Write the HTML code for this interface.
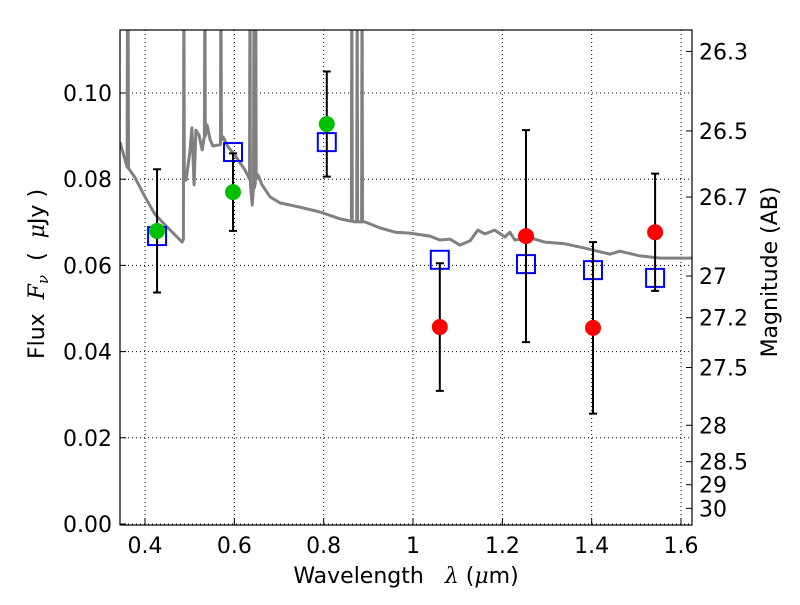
<!DOCTYPE html>
<html><head><meta charset="utf-8"><style>
body{margin:0;background:#fff}
svg text{font-family:"DejaVu Sans","Liberation Sans",sans-serif;fill:#000}
</style></head><body>
<svg id="chart" width="800" height="600" xmlns="http://www.w3.org/2000/svg">
<rect width="800" height="600" fill="#fff"/>
<defs><clipPath id="clip"><rect x="120" y="30" width="572" height="495"/></clipPath></defs>
<g id="grid"></g>
<g id="plot" clip-path="url(#clip)"></g>
<rect x="120" y="30" width="572" height="495" fill="none" stroke="#000" stroke-width="1.2"/>
<g id="axes"></g>
<text x="406" y="583" font-size="22" text-anchor="middle" xml:space="preserve">Wavelength   <tspan font-style="italic" font-family="DejaVu Serif">λ</tspan> (<tspan font-style="italic" font-family="DejaVu Serif">μ</tspan>m)</text>
<text transform="translate(44,274) rotate(-90)" font-size="22" text-anchor="middle" xml:space="preserve">Flux  <tspan font-style="italic" font-family="DejaVu Serif">F<tspan font-size="15" dy="4">ν</tspan></tspan><tspan dy="-4">  (  </tspan><tspan font-style="italic" font-family="DejaVu Serif">μ</tspan>Jy )</text>
<text transform="translate(777,272) rotate(-90)" font-size="22" text-anchor="middle">Magnitude (AB)</text>
</svg>
<script>
const specWave=[0.344,0.360,0.361,0.362,0.363,0.366,0.378,0.400,0.422,0.445,0.467,0.483,0.486,0.487,0.488,0.492,0.501,0.505,0.510,0.514,0.521,0.528,0.533,0.534,0.535,0.539,0.546,0.552,0.569,0.570,0.571,0.575,0.586,0.601,0.613,0.624,0.634,0.635,0.636,0.640,0.643,0.644,0.645,0.647,0.648,0.649,0.653,0.662,0.680,0.702,0.747,0.792,0.837,0.859,0.862,0.863,0.864,0.870,0.874,0.875,0.876,0.885,0.886,0.887,0.892,0.926,0.960,0.993,1.038,1.060,1.083,1.105,1.128,1.145,1.161,1.183,1.206,1.217,1.228,1.262,1.295,1.340,1.385,1.441,1.463,1.508,1.553,1.625];
const specFlux=[0.0886,0.0828,0.13,0.13,0.0825,0.0821,0.0803,0.0759,0.0719,0.0694,0.0671,0.0654,0.066,0.13,0.08,0.0798,0.0868,0.0919,0.0787,0.0914,0.0902,0.0868,0.09,0.13,0.09,0.0926,0.0891,0.0877,0.088,0.13,0.089,0.0898,0.0875,0.0856,0.0838,0.0821,0.080,0.13,0.079,0.074,0.078,0.13,0.078,0.079,0.13,0.08,0.081,0.0787,0.0759,0.0745,0.0735,0.0724,0.0708,0.0703,0.0703,0.13,0.0702,0.0701,0.0701,0.13,0.0701,0.0701,0.13,0.0701,0.0701,0.0687,0.0677,0.0675,0.0668,0.0659,0.0661,0.0647,0.0657,0.0682,0.0673,0.0682,0.0666,0.0677,0.0659,0.0664,0.0654,0.065,0.064,0.0626,0.0633,0.0622,0.0617,0.0617];
const obsWave=[0.427,0.597,0.807,1.060,1.253,1.403,1.542];
const obsFlux=[0.068,0.077,0.0928,0.0457,0.0668,0.0455,0.0677];
const obsErr=[0.0143,0.009,0.0122,0.0148,0.0246,0.0199,0.0136];
const obsColor=['#00c000','#00c000','#00c000','#ff0000','#ff0000','#ff0000','#ff0000'];
const modelFlux=[0.0668,0.0863,0.0886,0.0613,0.0603,0.0589,0.0571];
const xTicks=[0.4,0.6,0.8,1.0,1.2,1.4,1.6];
const xTickLabels=['0.4','0.6','0.8','1','1.2','1.4','1.6'];
const yTicks=[0,0.02,0.04,0.06,0.08,0.10];
const yTickLabels=['0.00','0.02','0.04','0.06','0.08','0.10'];
const magTicks=[26.3,26.5,26.7,27,27.2,27.5,28,28.5,29,30];
const magTickLabels=['26.3','26.5','26.7','27','27.2','27.5','28','28.5','29','30'];

const NS='http://www.w3.org/2000/svg';
const X=v=>145+(v-0.4)*446.67;
const Y=v=>524-v*4310;
const magToFlux=m=>Math.pow(10,(23.9-m)/2.5);
function mk(tag,attrs,parent){const e=document.createElementNS(NS,tag);for(const k in attrs)e.setAttribute(k,attrs[k]);parent.appendChild(e);return e;}
const grid=document.getElementById('grid'),plot=document.getElementById('plot'),axes=document.getElementById('axes');

xTicks.forEach((t,i)=>{
  const g=mk('line',{x1:X(t),x2:X(t),y1:30,y2:525,stroke:'#000','stroke-width':1,'stroke-dasharray':'1,3'},grid);
  
  
  const tk=mk('line',{x1:X(t),x2:X(t),y1:525,y2:519,stroke:'#000'},axes);
  
  
  const tx=mk('text',{x:X(t),y:553,'font-size':22,'text-anchor':'middle'},axes);
  tx.textContent=xTickLabels[i];
  
  
});
yTicks.forEach((t,i)=>{
  const g=mk('line',{x1:120,x2:692,y1:Y(t),y2:Y(t),stroke:'#000','stroke-width':1,'stroke-dasharray':'1,3'},grid);
  
  
  const tk=mk('line',{x1:120,x2:126,y1:Y(t),y2:Y(t),stroke:'#000'},axes);
  
  
  const tx=mk('text',{x:112,y:Y(t)+8,'font-size':22,'text-anchor':'end'},axes);
  tx.textContent=yTickLabels[i];
  
  
});
magTicks.forEach((m,i)=>{
  const y=Y(magToFlux(m));
  const tk=mk('line',{x1:686,x2:692,y1:y,y2:y,stroke:'#000'},axes);
  
  
  const tx=mk('text',{x:699,y:y+8,'font-size':22},axes);
  tx.textContent=magTickLabels[i];
  
  
});

const pts=specWave.map((w,i)=>X(w).toFixed(1)+','+Y(specFlux[i]).toFixed(1)).join(' ');
const sp=mk('polyline',{points:pts,fill:'none',stroke:'#808080','stroke-width':3,'stroke-linejoin':'round'},plot);



obsWave.forEach((w,i)=>{
  const x=X(w),yt=Y(obsFlux[i]+obsErr[i]),yb=Y(obsFlux[i]-obsErr[i]);
  const sq=mk('rect',{x:x-9,y:Y(modelFlux[i])-9,width:18,height:18,fill:'none',stroke:'#0000ff','stroke-width':2},plot);
  
  
  const eb=mk('path',{d:`M${x},${yt}V${yb}M${x-4},${yt}H${x+4}M${x-4},${yb}H${x+4}`,stroke:'#000','stroke-width':2,fill:'none'},plot);
  
  
  const c=mk('circle',{cx:x,cy:Y(obsFlux[i]),r:8,fill:obsColor[i]},plot);
  
  
});
</script>
</body></html>
